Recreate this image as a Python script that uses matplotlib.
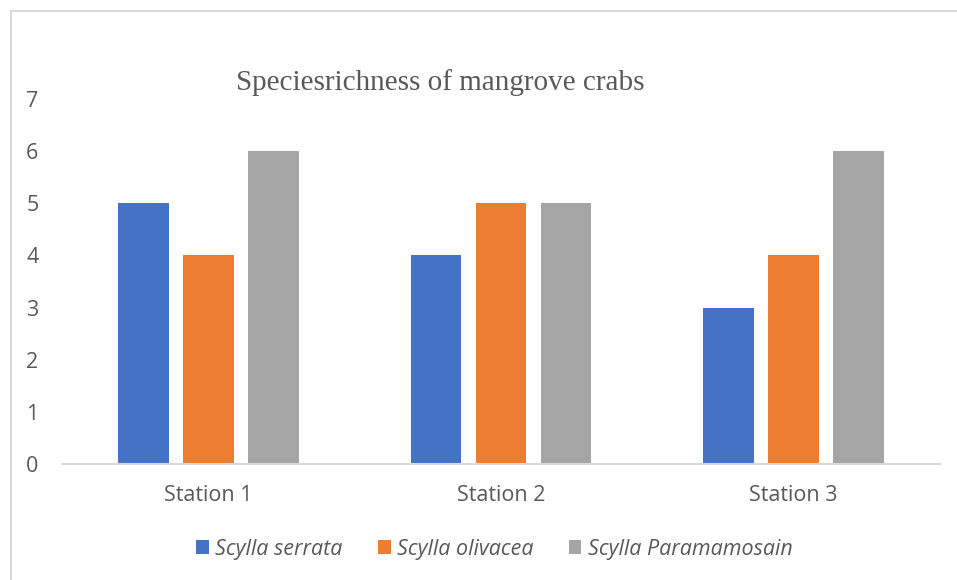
import matplotlib
matplotlib.use("Agg")
import matplotlib.pyplot as plt
from matplotlib.lines import Line2D
from matplotlib.patches import Patch
import numpy as np

stations = ["Station 1", "Station 2", "Station 3"]
species = ["Scylla serrata", "Scylla olivacea", "Scylla Paramamosain"]
serrata = [5, 4, 3]
olivacea = [4, 5, 4]
paramamosain = [6, 5, 6]
colors = ["#4472C4", "#ED7D31", "#A5A5A5"]
yticks = [0, 1, 2, 3, 4, 5, 6, 7]

text_color = "#595959"
W, H = 957, 580

fig = plt.figure(figsize=(W / 100, H / 100), dpi=100)
fig.patch.set_facecolor("white")

# chart area border: only top and left edges are visible in the crop
bx, by = 10.5 / W, 1 - 11 / H
fig.add_artist(Line2D([bx, 1.05], [by, by], transform=fig.transFigure,
                      color="#d9d9d9", linewidth=1.5))
fig.add_artist(Line2D([bx, bx], [-0.05, by], transform=fig.transFigure,
                      color="#d9d9d9", linewidth=1.5))

ax = fig.add_axes([62 / W, 1 - 464 / H, (940 - 62) / W, (464 - 99) / H])

x = np.arange(len(stations))
width = 0.174
step = 0.222
for i, (vals, c) in enumerate(zip([serrata, olivacea, paramamosain], colors)):
    ax.bar(x + (i - 1) * step, vals, width=width, color=c, zorder=2)

ax.set_xlim(-0.5, 2.5)
ax.set_ylim(0, 7)
ax.set_yticks(yticks)
ax.set_xticks(x)
ax.set_xticklabels(stations)

for s in ["top", "right", "left"]:
    ax.spines[s].set_visible(False)
ax.spines["bottom"].set_color("#d9d9d9")
ax.spines["bottom"].set_linewidth(1.5)
ax.tick_params(axis="both", length=0, colors=text_color, labelsize=15.5)
ax.tick_params(axis="y", pad=17)
ax.tick_params(axis="x", pad=15)
for lab in ax.get_xticklabels() + ax.get_yticklabels():
    lab.set_family("Open Sans")

fig.text(440 / W, 1 - 83 / H, "Speciesrichness of mangrove crabs",
         ha="center", va="center", fontsize=21, color=text_color,
         family="Liberation Serif")

handles = [Patch(facecolor=c, edgecolor="none") for c in colors]
leg = fig.legend(handles, species, loc="center", bbox_to_anchor=(494 / W, 1 - 549 / H),
                 ncol=3, frameon=False, handlelength=0.6, handleheight=0.6,
                 handletextpad=0.28, columnspacing=1.65,
                 prop={"family": "Open Sans", "style": "italic", "size": 15.5})
for t in leg.get_texts():
    t.set_color(text_color)

fig.savefig("out.png", dpi=100)
